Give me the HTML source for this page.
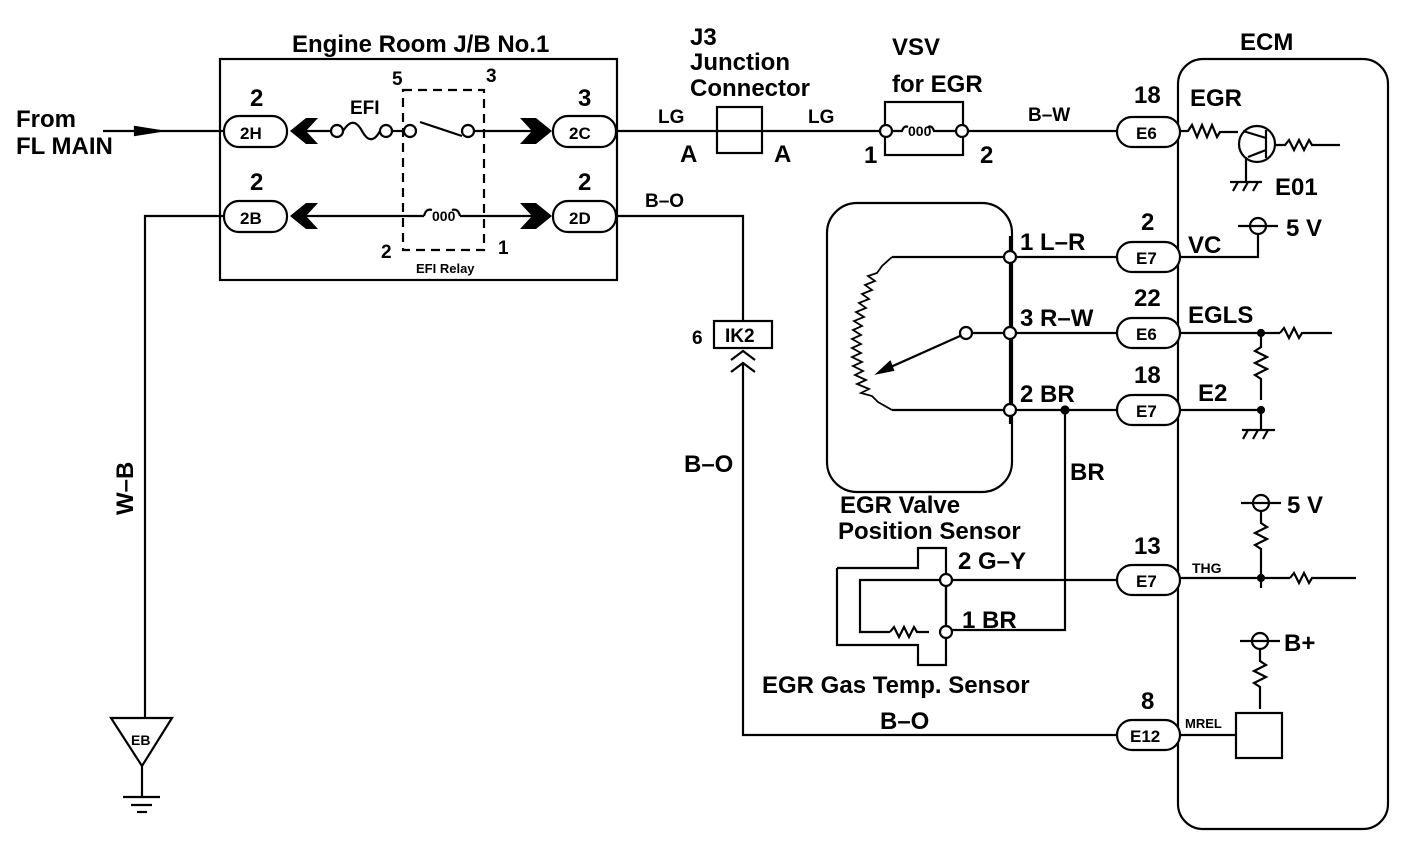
<!DOCTYPE html>
<html><head><meta charset="utf-8"><style>
html,body{margin:0;padding:0;background:#fff;}
svg{display:block;}
text{font-family:"Liberation Sans",Arial,sans-serif;fill:#000;font-weight:bold;}
.l{font-size:24px;}
.m{font-size:19px;}
.p{font-size:17px;}
</style></head><body>
<svg width="1408" height="844" viewBox="0 0 1408 844" xmlns="http://www.w3.org/2000/svg" fill="none" stroke="#000" stroke-width="2.2">
<!-- J/B box -->
<rect x="220" y="59" width="397" height="221"/>
<text class="l" x="292" y="52" stroke="none">Engine Room J/B No.1</text>
<text class="l" x="16" y="127" stroke="none">From</text>
<text class="l" x="16" y="154" stroke="none">FL MAIN</text>
<line x1="103" y1="131" x2="223" y2="131"/>
<polygon points="135,127 160,131 135,135" fill="#000"/>
<rect x="224" y="116" width="63" height="31" rx="15"/><text class="p" x="240" y="139" stroke="none">2H</text>
<rect x="224" y="201" width="63" height="31" rx="15"/><text class="p" x="240" y="224" stroke="none">2B</text>
<text class="l" x="250" y="106" stroke="none">2</text>
<text class="l" x="250" y="190" stroke="none">2</text>
<rect x="553" y="116" width="63" height="31" rx="15"/><text class="p" x="569" y="139" stroke="none">2C</text>
<rect x="553" y="201" width="63" height="31" rx="15"/><text class="p" x="569" y="224" stroke="none">2D</text>
<text class="l" x="578" y="106" stroke="none">3</text>
<text class="l" x="578" y="190" stroke="none">2</text>
<polygon points="290,131 306,118 318,118 306,131 318,144 306,144" fill="#000" stroke="none"/>
<polygon points="290,216 306,203 318,203 306,216 318,229 306,229" fill="#000" stroke="none"/>
<polygon points="552,131 536,118 520,118 532,131 520,144 536,144" fill="#000" stroke="none"/>
<polygon points="552,216 536,203 520,203 532,216 520,229 536,229" fill="#000" stroke="none"/>
<line x1="306" y1="131" x2="331" y2="131"/>
<circle cx="337" cy="131" r="6"/>
<path d="M343,131 C350,120 356,120 362,131 C368,142 374,142 380,131"/>
<circle cx="386" cy="131" r="6"/>
<line x1="392" y1="131" x2="404" y2="131"/>
<circle cx="410" cy="131" r="6"/>
<line x1="420" y1="122" x2="462" y2="136"/>
<circle cx="468" cy="131" r="6"/>
<line x1="474" y1="131" x2="536" y2="131"/>
<text class="m" x="350" y="114" stroke="none">EFI</text>
<line x1="306" y1="216" x2="424" y2="216"/>
<path d="M424,216 q2,-8 8,-6 M452,210 q6,-2 8,6" />
<text x="432" y="221" style="font-size:14px" stroke="none">000</text>
<line x1="460" y1="216" x2="536" y2="216"/>
<rect x="403" y="90" width="81" height="160" stroke-dasharray="9,6"/>
<text class="m" x="392" y="85" stroke="none">5</text>
<text class="m" x="486" y="82" stroke="none">3</text>
<text class="m" x="381" y="258" stroke="none">2</text>
<text class="m" x="498" y="254" stroke="none">1</text>
<text x="416" y="273" style="font-size:13px" stroke="none">EFI Relay</text>
<!-- row1 main line -->
<line x1="617" y1="131" x2="880" y2="131"/>
<text class="m" x="658" y="123" stroke="none">LG</text>
<text class="l" x="680" y="162" stroke="none">A</text>
<rect x="717" y="107" width="45" height="46"/>
<text class="m" x="808" y="123" stroke="none">LG</text>
<text class="l" x="774" y="162" stroke="none">A</text>
<text class="l" x="690" y="45" stroke="none">J3</text>
<text class="l" x="690" y="70" stroke="none">Junction</text>
<text class="l" x="690" y="96" stroke="none">Connector</text>
<rect x="885" y="102" width="78" height="53"/>
<circle cx="886" cy="131" r="6" fill="#fff"/>
<circle cx="962" cy="131" r="6" fill="#fff"/>
<path d="M892,131 h10 q2,-6 6,-4 M928,127 q4,-2 6,4 h22"/>
<text x="908" y="136" style="font-size:14px" stroke="none">000</text>
<text class="l" x="892" y="55" stroke="none">VSV</text>
<text class="l" x="892" y="92" stroke="none">for EGR</text>
<text class="l" x="864" y="163" stroke="none">1</text>
<text class="l" x="980" y="163" stroke="none">2</text>
<line x1="968" y1="131" x2="1117" y2="131"/>
<text class="m" x="1028" y="121" stroke="none">B–W</text>
<!-- ECM -->
<rect x="1178" y="59" width="210" height="770" rx="25"/>
<text class="l" x="1240" y="50" stroke="none">ECM</text>
<g>
<rect x="1117" y="117" width="63" height="30" rx="15" fill="#fff"/><text class="p" x="1136" y="139" stroke="none">E6</text><text class="l" x="1134" y="103" stroke="none">18</text>
<rect x="1117" y="242" width="63" height="30" rx="15" fill="#fff"/><text class="p" x="1136" y="264" stroke="none">E7</text><text class="l" x="1141" y="230" stroke="none">2</text>
<rect x="1117" y="318" width="63" height="30" rx="15" fill="#fff"/><text class="p" x="1136" y="340" stroke="none">E6</text><text class="l" x="1134" y="306" stroke="none">22</text>
<rect x="1117" y="395" width="63" height="30" rx="15" fill="#fff"/><text class="p" x="1136" y="417" stroke="none">E7</text><text class="l" x="1134" y="383" stroke="none">18</text>
<rect x="1117" y="565" width="63" height="30" rx="15" fill="#fff"/><text class="p" x="1136" y="587" stroke="none">E7</text><text class="l" x="1134" y="554" stroke="none">13</text>
<rect x="1117" y="720" width="63" height="30" rx="15" fill="#fff"/><text class="p" x="1130" y="742" stroke="none">E12</text><text class="l" x="1141" y="709" stroke="none">8</text>
</g>
<text class="l" x="1190" y="106" stroke="none">EGR</text>
<path d="M1180,131 h8 l4,-6 l5,12 l5,-12 l5,12 l5,-12 l5,12 l3,-5 h18"/>
<circle cx="1257" cy="144" r="18"/>
<line x1="1266" y1="130" x2="1266" y2="158"/>
<line x1="1243" y1="131" x2="1266" y2="138"/>
<line x1="1248" y1="157" x2="1266" y2="150"/>
<line x1="1246" y1="157" x2="1246" y2="182"/>
<line x1="1230" y1="182" x2="1262" y2="182"/>
<path d="M1233,191 l5,-9 M1243,191 l5,-9 M1253,191 l5,-9"/>
<text class="l" x="1275" y="195" stroke="none">E01</text>
<path d="M1275,145 h10 l4,-5 l5,10 l5,-10 l5,10 l5,-10 l3,5 h28"/>
<text class="l" x="1188" y="253" stroke="none">VC</text>
<polyline points="1180,257 1258,257 1258,233"/>
<circle cx="1258" cy="226" r="8"/>
<line x1="1238" y1="226" x2="1278" y2="226"/>
<text class="l" x="1286" y="236" stroke="none">5 V</text>
<text class="l" x="1188" y="323" stroke="none">EGLS</text>
<line x1="1180" y1="333" x2="1280" y2="333"/>
<circle cx="1261" cy="333" r="3" fill="#000"/>
<path d="M1280,333 l4,-5 l5,10 l5,-10 l5,10 l3,-5 h30"/>
<path d="M1261,333 v14 l-6,4 l12,6 l-12,6 l12,6 l-12,6 l6,4 v21"/>
<circle cx="1261" cy="410" r="3" fill="#000"/>
<text class="l" x="1198" y="401" stroke="none">E2</text>
<line x1="1180" y1="410" x2="1261" y2="410"/>
<line x1="1261" y1="410" x2="1261" y2="430"/>
<line x1="1242" y1="430" x2="1275" y2="430"/>
<path d="M1243,439 l5,-9 M1253,439 l5,-9 M1263,439 l5,-9"/>
<circle cx="1261" cy="503" r="8"/>
<line x1="1241" y1="503" x2="1281" y2="503"/>
<text class="l" x="1287" y="513" stroke="none">5 V</text>
<path d="M1261,511 v12 l6,4 l-12,6 l12,6 l-12,6 l6,4 v39"/>
<text x="1192" y="573" stroke="none" style="font-size:14px">THG</text>
<line x1="1180" y1="578" x2="1290" y2="578"/>
<circle cx="1261" cy="578" r="3" fill="#000"/>
<path d="M1290,578 l4,-5 l5,10 l5,-10 l5,10 l3,-5 h44"/>
<circle cx="1260" cy="641" r="8"/>
<line x1="1240" y1="641" x2="1280" y2="641"/>
<text class="l" x="1284" y="651" stroke="none">B+</text>
<path d="M1260,649 v12 l6,4 l-12,6 l12,6 l-12,6 l6,4 v22"/>
<rect x="1236" y="713" width="46" height="45"/>
<text x="1185" y="728" stroke="none" style="font-size:13px">MREL</text>
<line x1="1180" y1="735" x2="1236" y2="735"/>
<!-- Row2 B-O -->
<polyline points="617,216 743,216 743,321"/>
<text class="m" x="645" y="207" stroke="none">B–O</text>
<rect x="714" y="321" width="58" height="27"/>
<text class="m" x="725" y="342" stroke="none">IK2</text>
<text class="m" x="692" y="344" stroke="none">6</text>
<path d="M731,360 l12,-9 l12,9 M731,372 l12,-9 l12,9"/>
<polyline points="743,363 743,735 1117,735"/>
<text class="l" x="684" y="472" stroke="none">B–O</text>
<text class="l" x="880" y="729" stroke="none">B–O</text>
<polyline points="224,216 145,216 145,718"/>
<text class="l" transform="translate(133,515) rotate(-90)" stroke="none">W–B</text>
<polygon points="111,718 172,718 142,766"/>
<text x="131" y="745" style="font-size:14px" stroke="none">EB</text>
<line x1="142" y1="766" x2="142" y2="797"/>
<line x1="123" y1="797" x2="160" y2="797"/>
<line x1="131" y1="805" x2="152" y2="805"/>
<line x1="137" y1="812" x2="147" y2="812"/>
<!-- EGR valve position sensor -->
<rect x="827" y="203" width="185" height="289" rx="30"/>
<line x1="1010" y1="236" x2="1010" y2="424"/>
<polyline points="892,257 1010,257"/>
<polyline points="892,410 1010,410"/>
<path d="M892,257 L882,266 L877,273 L868,276 L875,281 L865,285 L872,290 L862,294 L869,299 L859,303 L866,308 L856,312 L864,317 L854,321 L862,326 L853,330 L861,335 L852,339 L861,344 L852,348 L861,353 L852,357 L862,362 L853,366 L863,371 L855,375 L866,380 L857,384 L869,389 L861,393 L872,396 L878,402 L892,410" stroke-width="1.8"/>
<line x1="960" y1="336" x2="884" y2="370"/>
<polygon points="878,373 890,362 893,370" fill="#000"/>
<circle cx="966" cy="333" r="6" fill="#fff"/>
<line x1="972" y1="333" x2="1117" y2="333"/>
<line x1="1010" y1="257" x2="1117" y2="257"/>
<line x1="1010" y1="410" x2="1117" y2="410"/>
<circle cx="1010" cy="257" r="6" fill="#fff"/>
<circle cx="1010" cy="333" r="6" fill="#fff"/>
<circle cx="1010" cy="410" r="6" fill="#fff"/>
<text class="l" x="1020" y="250" stroke="none">1  L–R</text>
<text class="l" x="1020" y="326" stroke="none">3  R–W</text>
<text class="l" x="1020" y="402" stroke="none">2  BR</text>
<circle cx="1065" cy="410" r="3.5" fill="#000"/>
<polyline points="1065,410 1065,630 951,630"/>
<text class="l" x="1070" y="480" stroke="none">BR</text>
<text class="l" x="840" y="513" stroke="none">EGR Valve</text>
<text class="l" x="838" y="539" stroke="none">Position Sensor</text>
<polyline points="837,568 918,568 918,548 946,548 946,665 918,665 918,645 837,645 837,568"/>
<polyline points="940,580 860,580 860,632 890,632"/>
<path d="M890,632 l4,-5 l5,10 l5,-10 l5,10 l5,-10 l3,5 h12"/>
<line x1="946" y1="586" x2="946" y2="626"/>
<circle cx="946" cy="580" r="6" fill="#fff"/>
<circle cx="946" cy="632" r="6" fill="#fff"/>
<line x1="952" y1="580" x2="1117" y2="580"/>
<text class="l" x="958" y="569" stroke="none">2  G–Y</text>
<text class="l" x="962" y="628" stroke="none">1   BR</text>
<text class="l" x="762" y="693" stroke="none">EGR Gas Temp. Sensor</text>
</svg>
</body></html>
